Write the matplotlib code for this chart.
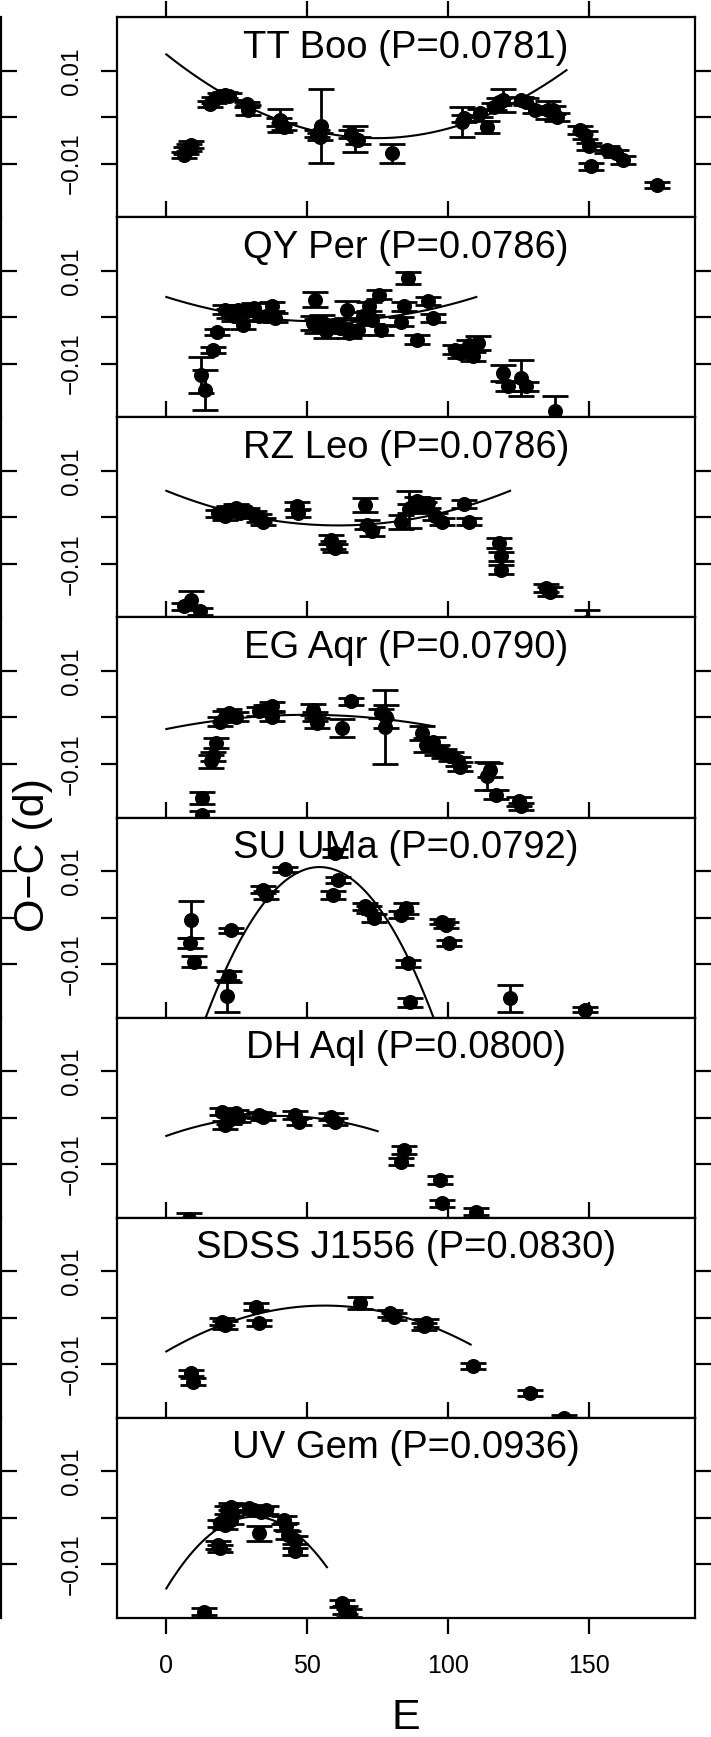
import numpy as np
import matplotlib.pyplot as plt

plt.rcParams['font.family'] = ['Liberation Sans', 'DejaVu Sans']

# O-C values and errors in units of 0.001 d, E = cycle number
titles = ["TT Boo (P=0.0781)", "QY Per (P=0.0786)", "RZ Leo (P=0.0786)",
          "EG Aqr (P=0.0790)", "SU UMa (P=0.0792)", "DH Aql (P=0.0800)",
          "SDSS J1556 (P=0.0830)", "UV Gem (P=0.0936)"]

ttboo_E = [6.3, 7.1, 7.9, 8.6, 15.4, 17.0, 19.1, 21.0, 22.3, 28.5, 29.0, 40.5, 41.6, 40.0,
           54.9, 53.6, 54.4, 65.5, 67.0, 68.0, 80.1, 105.0, 105.8, 111.4, 113.8, 116.3,
           117.9, 119.5, 125.9, 127.5, 130.7, 135.5, 137.1, 138.8, 146.8, 148.4, 150.0,
           150.8, 156.4, 159.6, 162.0, 174.1]
ttboo_oc = [-8.1, -7.2, -6.5, -5.9, 2.9, 3.7, 4.5, 4.8, 4.5, 2.8, 1.5, -0.6, -2.0, -1.0,
            -1.9, -3.5, -4.2, -3.6, -4.6, -5.0, -7.8, -1.0, -0.2, 0.9, -2.0, 2.3,
            3.4, 3.7, 3.7, 3.4, 1.6, 1.6, 1.6, 0.1, -2.7, -3.8, -6.3,
            -10.6, -7.0, -7.8, -9.2, -14.6]
ttboo_err = [0.7, 0.7, 0.7, 0.7, 0.7, 0.7, 0.7, 0.7, 0.7, 0.6, 1.1, 2.5, 0.8, 0.8,
             8.0, 0.8, 0.8, 0.8, 2.8, 0.8, 2.0, 3.2, 0.8, 0.8, 1.3, 0.8,
             0.8, 2.5, 0.7, 0.7, 0.7, 2.0, 0.8, 0.8, 0.8, 0.8, 0.8,
             0.8, 0.8, 0.8, 0.8, 0.7]

qyper_E = [12.2, 13.8, 16.7, 18.0, 20.7, 22.3, 24.0, 25.5, 27.1, 28.7, 31.2, 32.8, 35.2,
           37.6, 38.4, 52.8, 52.0, 53.6, 55.2, 56.8, 59.3, 61.7, 64.1, 64.9, 68.1, 69.7,
           72.1, 72.9, 75.3, 76.1, 85.8, 84.2, 83.3, 89.0, 93.0, 94.6, 102.6, 104.2,
           107.4, 109.0, 110.6, 119.5, 121.1, 126.0, 127.5, 138.0]
qyper_oc = [-12.5, -15.6, -7.1, -3.2, 1.7, 0.9, 0.2, 1.7, -1.6, 1.3, 2.0, 0.2, 0.2,
            2.4, -0.1, 3.8, -1.2, -1.9, -0.9, -3.0, -1.6, -2.3, 1.7, -3.4, -2.7, 0.2,
            2.4, -0.5, 4.9, -2.7, 8.5, 2.4, -0.9, -4.8, 3.5, -0.1, -7.0, -7.7,
            -5.9, -8.4, -5.5, -12.0, -14.9, -13.1, -14.9, -20.3]
qyper_err = [3.9, 4.3, 0.6, 0.7, 1.0, 1.0, 1.0, 1.0, 1.0, 1.0, 1.0, 1.0, 1.0,
             1.0, 1.0, 1.6, 1.5, 1.5, 1.5, 1.5, 1.0, 1.0, 1.8, 1.0, 1.0, 1.0,
             1.0, 1.0, 1.0, 1.0, 1.2, 1.0, 1.0, 0.9, 0.9, 0.8, 1.0, 1.0,
             1.0, 1.0, 1.5, 1.7, 1.0, 3.8, 1.0, 3.4]

rzleo_E = [6.3, 8.7, 11.9, 18.3, 20.7, 22.3, 24.7, 26.3, 28.7, 31.2, 32.8, 34.4, 46.4,
           46.9, 58.5, 59.3, 60.0, 70.5, 71.3, 72.9, 83.3, 86.0, 86.6, 89.0, 91.4, 93.0,
           95.4, 97.8, 105.8, 107.4, 117.9, 118.7, 118.7, 134.7, 136.3, 149.2]
rzleo_oc = [-19.2, -17.8, -20.3, 0.9, 0.2, 1.7, 2.0, 0.9, 1.3, 0.6, -0.1, -0.9, 2.4,
            0.9, -4.8, -5.9, -6.6, 2.7, -1.6, -3.0, -0.9, 1.8, 2.0, 3.5, 2.4, 3.1,
            0.2, -0.9, 2.9, -0.9, -5.5, -8.4, -11.3, -15.3, -16.0, -22.5]
rzleo_err = [0.8, 2.0, 0.8, 0.8, 0.8, 0.8, 0.8, 0.8, 0.8, 0.8, 0.8, 0.8, 0.9,
             0.9, 0.9, 0.9, 0.9, 1.5, 1.0, 1.0, 1.5, 4.0, 1.0, 1.0, 1.0, 1.0,
             0.8, 0.8, 0.8, 0.8, 1.0, 1.0, 1.0, 0.9, 0.9, 2.5]

egaqr_E = [12.5, 12.7, 15.9, 16.7, 17.5, 19.1, 20.7, 22.3, 24.7, 32.8, 35.2, 37.6, 37.6,
           52.0, 52.8, 53.6, 62.5, 65.7, 76.1, 77.7, 78.0, 90.6, 92.2, 94.6, 96.2, 98.6,
           101.0, 103.4, 104.2, 113.9, 114.7, 117.1, 125.1, 125.8]
egaqr_oc = [-17.4, -21.0, -9.5, -8.4, -5.5, -0.9, 0.2, 0.9, 0.2, 1.3, 1.7, 2.4, 0.2,
            1.7, 0.2, -1.2, -2.3, 3.5, 0.9, -2.0, 0.2, -3.4, -5.9, -5.2, -7.0, -7.7,
            -8.4, -9.5, -10.6, -12.7, -11.3, -16.7, -18.1, -19.2]
egaqr_err = [1.3, 0.8, 1.5, 1.0, 1.0, 1.0, 1.2, 1.0, 1.0, 1.0, 1.0, 1.0, 1.0,
             1.2, 1.0, 1.0, 2.0, 0.8, 1.0, 8.0, 2.5, 1.5, 1.5, 1.0, 1.0, 1.0,
             1.0, 1.0, 1.0, 3.0, 1.5, 1.0, 1.0, 0.8]

suuma_E = [8.7, 8.4, 10.0, 23.1, 22.3, 21.5, 34.4, 35.2, 42.1, 60.0, 60.9, 59.3, 70.5,
           72.1, 73.7, 85.0, 83.3, 85.8, 86.6, 97.8, 99.4, 100.2, 121.9, 148.4]
suuma_oc = [-0.5, -5.5, -9.5, -2.8, -12.7, -17.0, 6.0, 4.9, 10.4, 13.9, 8.1, 4.9, 2.4,
            1.7, -0.1, 2.0, 0.6, -9.9, -18.3, -0.9, -1.6, -5.5, -17.4, -19.9]
suuma_err = [4.0, 1.0, 1.1, 0.5, 1.2, 3.5, 0.8, 0.8, 0.6, 0.8, 0.7, 0.8, 0.8,
             0.8, 0.8, 1.2, 0.8, 0.8, 1.0, 0.6, 0.6, 0.6, 2.9, 0.6]

dhaql_E = [8.0, 19.9, 20.7, 22.3, 24.7, 25.5, 32.8, 34.4, 45.6, 47.2, 58.5, 60.0, 84.5,
           83.3, 97.0, 97.8, 109.8]
dhaql_oc = [-22.0, 1.3, -1.6, -0.5, 0.9, -0.1, 0.6, 0.2, 0.6, -0.9, 0.2, -0.9, -7.0,
            -9.5, -13.5, -18.5, -20.3]
dhaql_err = [1.3, 0.8, 0.8, 0.8, 0.8, 0.8, 0.7, 0.7, 0.8, 0.8, 0.8, 0.8, 0.8,
             0.8, 0.8, 0.8, 0.8]

sdss_E = [8.7, 9.5, 19.9, 20.7, 32.0, 32.8, 68.9, 79.3, 80.9, 92.2, 91.4, 109.0, 129.1, 141.2]
sdss_oc = [-12.0, -13.8, -0.9, -1.6, 2.4, -1.2, 3.2, 0.9, 0.2, -1.2, -1.9, -10.4, -16.3, -21.7]
sdss_err = [0.7, 0.7, 0.8, 0.8, 0.8, 0.6, 1.3, 0.8, 0.8, 0.8, 0.8, 0.6, 0.6, 0.6]

uvgem_E = [13.5, 23.1, 21.5, 19.1, 20.7, 23.1, 18.3, 19.1, 29.5, 31.2, 33.6, 35.2, 32.8,
           41.6, 42.4, 43.2, 45.6, 45.6, 62.5, 63.3, 64.9]
uvgem_oc = [-20.3, 2.4, 1.7, -1.2, -1.6, -0.5, -5.9, -6.6, 2.0, 1.7, 1.3, 1.7, -3.4,
            -0.5, -1.9, -3.7, -4.8, -7.3, -18.5, -19.9, -20.6]
uvgem_err = [0.8, 0.8, 0.8, 0.8, 0.8, 0.8, 0.8, 0.8, 0.8, 0.8, 0.8, 0.8, 1.6,
             0.8, 0.8, 0.8, 0.8, 0.8, 0.8, 0.8, 0.8]

# quadratic fits: O-C = a*(E-h)^2 + k, drawn for E0 <= E <= E1
fit_a = [0.003244, 0.00174, 0.00201, -0.00123, -0.0199, -0.0027, -0.003135, -0.01612]
fit_h = [74.7, 55.0, 61.0, 50.0, 54.4, 40.0, 56.2, 31.0]
fit_k = [-4.5, -0.86, -1.73, 0.58, 10.9, 0.36, 2.6, 0.2]
fit_E1 = [142, 110, 122, 95, 110, 75, 108, 57]

data = [(ttboo_E, ttboo_oc, ttboo_err), (qyper_E, qyper_oc, qyper_err),
        (rzleo_E, rzleo_oc, rzleo_err), (egaqr_E, egaqr_oc, egaqr_err),
        (suuma_E, suuma_oc, suuma_err), (dhaql_E, dhaql_oc, dhaql_err),
        (sdss_E, sdss_oc, sdss_err), (uvgem_E, uvgem_oc, uvgem_err)]

W, H = 711, 1737
fig = plt.figure(figsize=(W / 100, H / 100), dpi=100)

left, right, top, ph = 116.7, 695.0, 17.3, 200.05
lw = 1.6
ylim = (-0.0216, 0.0216)
yt = [-0.01, 0, 0.01]

for i, (E, oc, err) in enumerate(data):
    bottom = H - (top + ph * (i + 1))
    ax = fig.add_axes([left / W, bottom / H, (right - left) / W, ph / H])
    # cut-off neighbour column at the far left
    gh = fig.add_axes([-0.3, bottom / H, 0.3 + 1.2 / W, ph / H])
    gh.patch.set_visible(False)
    for s in ['top', 'bottom', 'left']:
        gh.spines[s].set_visible(False)
    gh.spines['right'].set_linewidth(lw)
    gh.set_ylim(ylim)
    gh.set_xticks([])
    gh.set_yticks(yt)
    gh.tick_params(axis='y', left=False, right=True, labelleft=False,
                   direction='out', length=11.5, width=lw)

    oc = np.array(oc) / 1000
    err = np.array(err) / 1000
    ax.errorbar(E, oc, yerr=err, fmt='o', color='black', ms=9.8,
                capsize=9.7, elinewidth=2.0, capthick=2.0)
    ee = np.linspace(0, fit_E1[i], 200)
    ax.plot(ee, (fit_a[i] * (ee - fit_h[i]) ** 2 + fit_k[i]) / 1000, color='black', lw=1.5)

    ax.text(0.5, 0.0128, titles[i], transform=ax.get_yaxis_transform(),
            ha='center', va='baseline', fontsize=27.5)

    ax.set_xlim(-17.6, 187.6)
    ax.set_ylim(ylim)
    ax.set_yticks(yt)
    ax.set_yticklabels(['\u22120.01', '', '0.01'], rotation=90, va='center')
    ax.tick_params(axis='y', left=True, right=True, direction='out', length=11.5,
                   width=lw, labelsize=17.5, pad=13)
    ax.set_xticks([0, 50, 100, 150])
    if i == len(data) - 1:
        ax.tick_params(axis='x', bottom=True, top=False, direction='out', length=11.2,
                       width=lw, labelsize=18, pad=15)
    else:
        ax.tick_params(axis='x', bottom=True, top=(i == 0), direction='in', length=11.2,
                       width=lw, labelbottom=False)
        if i == 0:
            ax.tick_params(axis='x', which='major', top=True)
    for s in ax.spines.values():
        s.set_linewidth(lw)

# first panel: ticks on top point outward
ax0 = fig.axes[0]
ax0t = ax0.secondary_xaxis('top')
ax0t.set_xticks([0, 50, 100, 150])
ax0t.tick_params(direction='out', length=11.2, width=lw, labeltop=False)
ax0.tick_params(axis='x', top=False)

fig.text(406 / W, 1 - 1718 / H, 'E', ha='center', va='center', fontsize=31)
fig.text(33 / W, 1 - 855 / H, 'O\u2212C (d)', ha='center', va='center', rotation=90, fontsize=31)

fig.savefig('out.png', dpi=100)
